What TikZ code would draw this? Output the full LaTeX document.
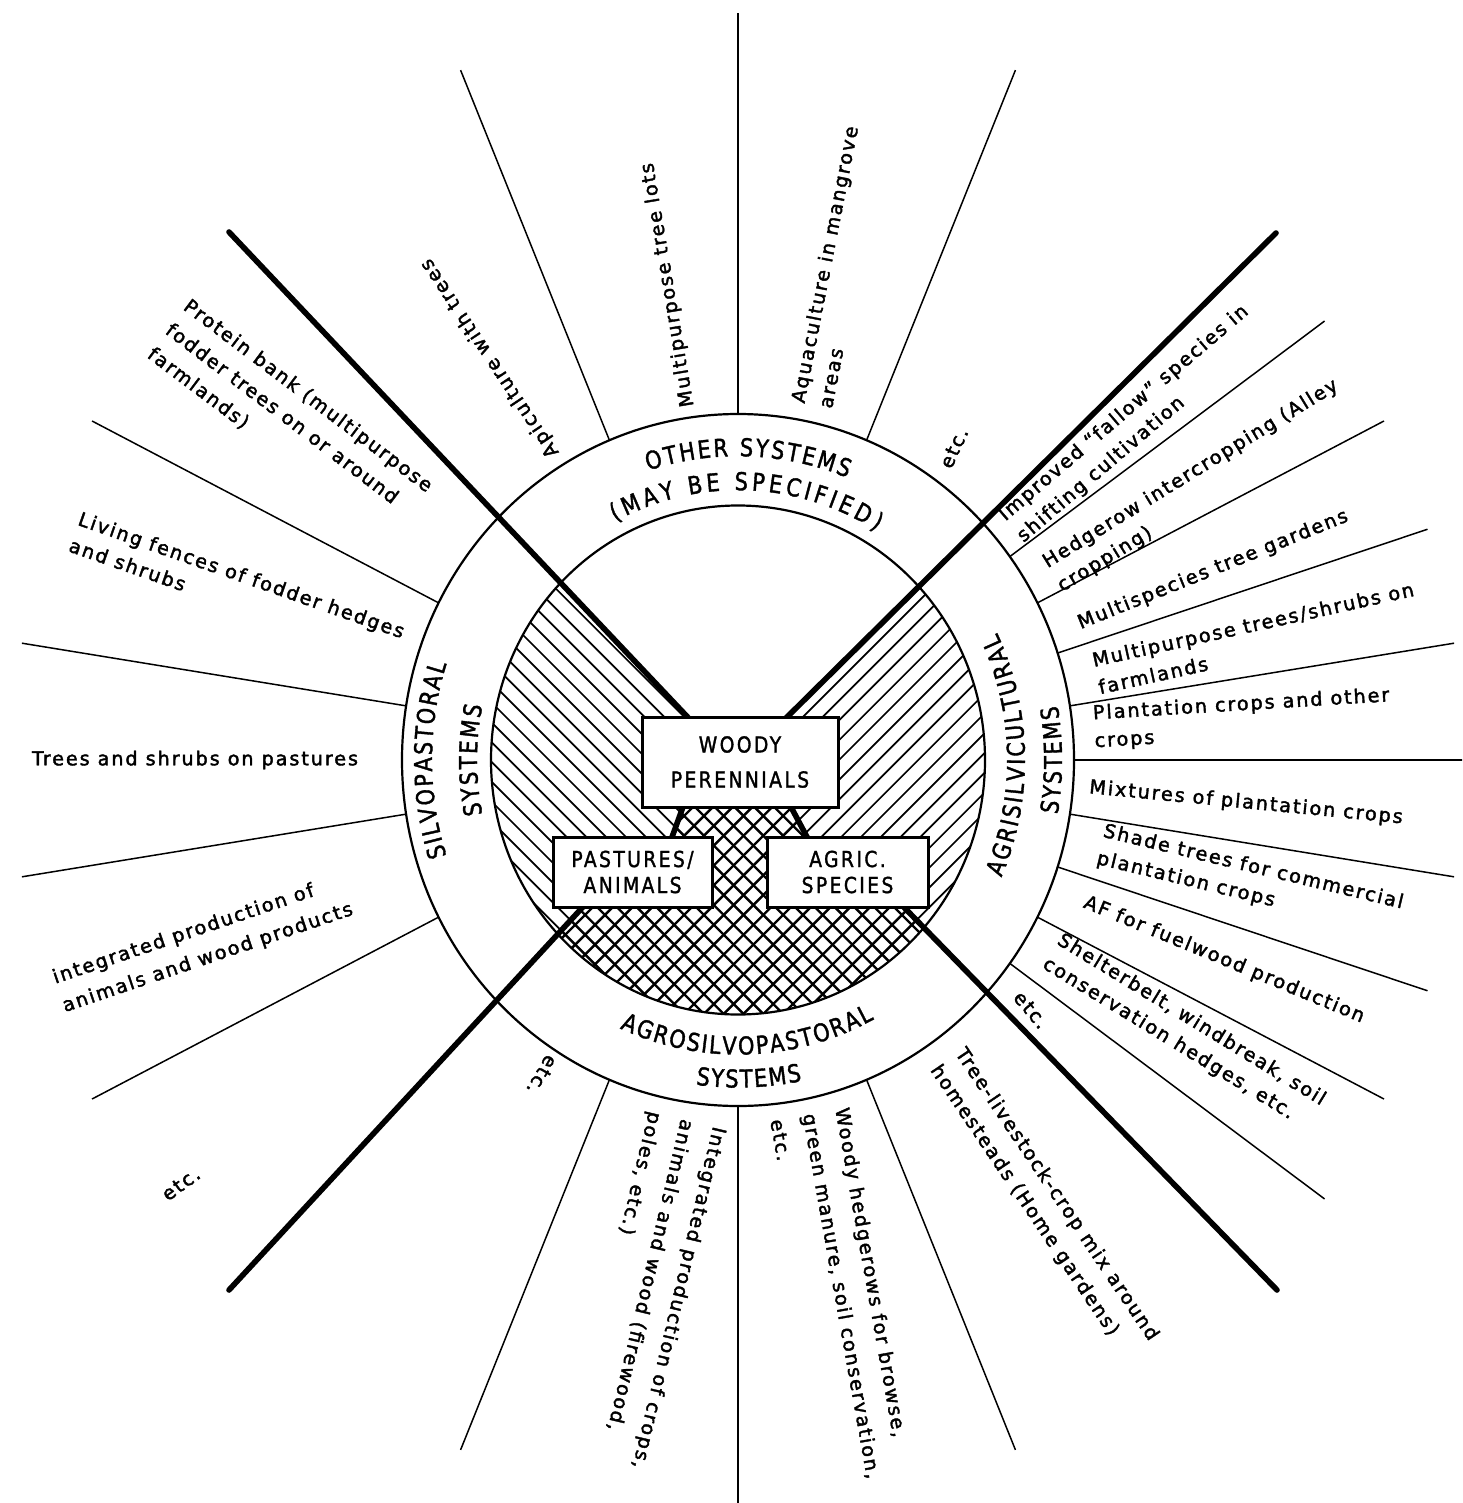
\documentclass[tikz,border=0pt]{standalone}
\usepackage{fontspec}
\setmainfont{DejaVu Sans}
\newfontfamily\lblfam[LetterSpace=10,FakeBold=2]{DejaVu Sans}
\newfontfamily\capfam[FakeStretch=0.85,FakeBold=1.5]{DejaVu Sans}
\newfontfamily\boxfam[FakeStretch=0.85,LetterSpace=11,FakeBold=1.5]{DejaVu Sans}
\newcommand\lblfont{\lblfam\fontsize{9.6pt}{14pt}\selectfont}
\newcommand\lblfontm{\lblfam\fontsize{9.6pt}{15pt}\selectfont}
\newcommand\lblfontw{\lblfam\fontsize{9.6pt}{16.5pt}\selectfont}
\newcommand\ringfont{\capfam\fontsize{12.3pt}{14pt}\selectfont}
\newcommand\lpar{(}
\newcommand\rpar{)}
\newdimen\rtw
\newdimen\rtpos
\newdimen\chw
\newdimen\pxu \pxu=0.5pt
\newbox\rtbox
\newcommand\measurech[1]{%
  \pgfinterruptpicture
  \setbox\rtbox=\hbox{\ringfont#1}%
  \global\chw=\wd\rtbox
  \endpgfinterruptpicture}
% #1 baseline radius, #2 middle angle, #3 +1 tops inward / -1 tops outward, #4 tracking (px), #5 characters
\newcommand\ringtext[5]{%
  \global\rtw=0pt
  \foreach \ch [count=\n] in {#5}{%
    \measurech{\ch}%
    \global\advance\rtw by \chw
    \xdef\rtn{\n}}%
  \pgfmathsetmacro\rttot{\the\rtw+(\rtn-1)*#4*0.5}%
  \global\rtpos=0pt
  \foreach \ch in {#5}{%
    \measurech{\ch}%
    \edef\rtp{\the\rtpos}\edef\rtwd{\the\chw}%
    \pgfmathsetmacro\rtang{#2+(#3)*((\rtp+0.5*\rtwd)-0.5*\rttot)/((#1)*0.5)*180/pi}%
    \pgfmathsetmacro\rtrot{\rtang+(#3)*90}%
    \node[anchor=base,inner sep=0pt,rotate=\rtrot,font=\ringfont] at (\rtang:#1) {\ch};
    \global\advance\rtpos by \chw
    \global\advance\rtpos by #4\pxu}%
}
\begin{document}
\begin{tikzpicture}[x=0.5pt,y=-0.5pt,
  spoke/.style={line width=0.75pt},
  ringline/.style={line width=1.1pt},
  bar/.style={line width=2.8pt,line cap=round},
  hatchln/.style={line width=0.85pt},
  crossln/.style={line width=1.2pt},
  box/.style={draw,line width=1.5pt,fill=white,inner sep=0pt,align=center},
  lbl/.style={font=\lblfont,align=left,inner sep=0pt,anchor=center}]
\useasboundingbox (0,0) rectangle (1462,1503);
\fill[white] (0,0) rectangle (1462,1503);
\begin{scope}
\clip (0,0) rectangle (1462,1503);
\coordinate (C) at (738,760);
% ---------- hatching of the inner disc
\begin{scope}
  \clip (738,760) ellipse [x radius=247, y radius=254.5];
  \begin{scope}
    \clip (229,232) -- (687,716) -- (683,807) -- (672,837) -- (583,907) -- (229,1290) -- (-200,1290) -- (-200,232) -- cycle;
    \foreach \i in {-30,...,30} \draw[hatchln] ({\i*19.8+387},400) -- ({\i*19.8+1107},1120);
  \end{scope}
  \begin{scope}
    \clip (1276,233) -- (788,716) -- (791,807) -- (807,837) -- (903,907) -- (1277,1290) -- (1700,1290) -- (1700,233) -- cycle;
    \foreach \i in {-30,...,30} \draw[hatchln] ({1100+\i*19.8},400) -- ({380+\i*19.8},1120);
  \end{scope}
  \begin{scope}
    \clip (683,807) -- (672,837) -- (583,907) -- (229,1290) -- (1277,1290) -- (903,907) -- (807,837) -- (791,807) -- cycle;
    \foreach \i in {-30,...,30} {
      \draw[crossln] ({\i*19.8+387},400) -- ({\i*19.8+1107},1120);
      \draw[crossln] ({1100+\i*19.8},400) -- ({380+\i*19.8},1120);}
  \end{scope}
\end{scope}
% ---------- circles
\draw[ringline] (C) ellipse [x radius=247, y radius=254.5];
\draw[ringline] (C) ellipse [x radius=336, y radius=346];
% ---------- spokes and ring texts
\begin{scope}[shift={(738,760)},yscale=-1.03]
  \foreach \a in {112.5,90,67.5,153,171,189,207,36,27,18,9,0,-9,-18,-27,-36,247.5,270,292.5}
    \draw[spoke] (\a:336) -- (\a:725);
  \ringtext{295}{88}{-1}{2.3}{O,T,H,E,R,\ ,S,Y,S,T,E,M,S}
  \ringtext{262}{88}{-1}{3.8}{\lpar,M,A,Y,\ ,B,E,\ ,S,P,E,C,I,F,I,E,D,\rpar}
  \ringtext{306}{180}{-1}{1.5}{S,I,L,V,O,P,A,S,T,O,R,A,L}
  \ringtext{261}{180}{-1}{1.7}{S,Y,S,T,E,M,S}
  \ringtext{287}{1}{1}{2}{A,G,R,I,S,I,L,V,I,C,U,L,T,U,R,A,L}
  \ringtext{324}{0}{1}{1.7}{S,Y,S,T,E,M,S}
  \ringtext{286}{272}{1}{1.9}{A,G,R,O,S,I,L,V,O,P,A,S,T,O,R,A,L}
  \ringtext{318}{272}{1}{1.7}{S,Y,S,T,E,M,S}
\end{scope}
% ---------- thick dividing bars
\coordinate (nwend) at (229,232);
\coordinate (neend) at (1276,233);
\coordinate (swend) at (229,1290);
\coordinate (seend) at (1277,1290);
\draw[bar] (nwend) -- (697,727);
\draw[bar] (neend) -- (777,727);
\draw[bar] (swend) -- (593,896);
\draw[bar] (seend) -- (893,896);
\draw[bar] (686.4,797.6) -- (668.6,846.4);
\draw[bar] (786.3,798.2) -- (811.7,845.8);
% ---------- boxes
\node[box,minimum width=98pt,minimum height=45pt,font=\boxfam\fontsize{11pt}{17.5pt}\selectfont] (woody) at (740,762) {WOODY\\PERENNIALS};
\node[box,minimum width=79.5pt,minimum height=35pt,font=\boxfam\fontsize{11pt}{13pt}\selectfont] (past) at (632.5,872) {PASTURES/\\ANIMALS};
\node[box,minimum width=80.5pt,minimum height=35pt,font=\boxfam\fontsize{11pt}{13pt}\selectfont] (agric) at (847.5,872) {AGRIC.\\SPECIES};
% ---------- labels: silvopastoral
\node[lbl,rotate=-37,font=\lblfontm] (protein) at (290,420) {Protein bank (multipurpose\\fodder trees on or around\\farmlands)};
\node[lbl,rotate=-19.3] (living) at (237,588) {Living fences of fodder hedges\\and shrubs};
\node[lbl] (trees) at (195,760) {Trees and shrubs on pastures};
\node[lbl,rotate=18.7,font=\lblfontm] (intanim) at (203,944) {integrated production of\\animals and wood products};
\node[lbl,rotate=36] (etcl) at (181,1184) {etc.};
% ---------- other systems
\node[lbl,rotate=123.6] (api) at (490,358) {Apiculture with trees};
\node[lbl,rotate=99.5] (mpt) at (668,285) {Multipurpose tree lots};
\node[lbl,rotate=79] (aqua) at (838,267) {Aquaculture in mangrove\\areas};
\node[lbl,rotate=65] (etct) at (954,448) {etc.};
% ---------- agrisilvicultural
\node[lbl,rotate=40.5] (fallow) at (1133,424) {Improved \textquotedblleft fallow\textquotedblright\ species in\\shifting cultivation};
\node[lbl,rotate=31.6] (hedge) at (1198,486) {Hedgerow intercropping (Alley\\cropping)};
\node[lbl,rotate=22] (multisp) at (1213,570) {Multispecies tree gardens};
\node[lbl,rotate=12.5] (mptf) at (1256,638) {Multipurpose trees/shrubs on\\farmlands};
\node[lbl,rotate=3.5] (plant) at (1242,719) {Plantation crops and other\\crops};
\node[lbl,rotate=-5.5] (mix) at (1246,803) {Mixtures of plantation crops};
\node[lbl,rotate=-13.5] (shade) at (1250,881) {Shade trees for commercial\\plantation crops};
\node[lbl,rotate=-22.5] (af) at (1224,960) {AF for fuelwood production};
\node[lbl,rotate=-31.5] (shelter) at (1184,1032) {Shelterbelt, windbreak, soil\\conservation hedges, etc.};
\node[lbl,rotate=-50] (etcr) at (1031,1010) {etc.};
% ---------- agrosilvopastoral
\node[lbl,rotate=-120] (etcb) at (542,1075) {etc.};
\node[lbl,rotate=-103.3,font=\lblfontw] (intcrop) at (646,1290) {Integrated production of crops,\\animals and wood (firewood,\\poles, etc.)};
\node[lbl,rotate=-80,font=\lblfontw] (woodyh) at (842,1296) {Woody hedgerows for browse,\\green manure, soil conservation,\\etc.};
\node[lbl,rotate=-56,font=\lblfontm] (homeg) at (1044,1203) {Tree-livestock-crop mix around\\homesteads (Home gardens)};
\end{scope}
\end{tikzpicture}
\end{document}
